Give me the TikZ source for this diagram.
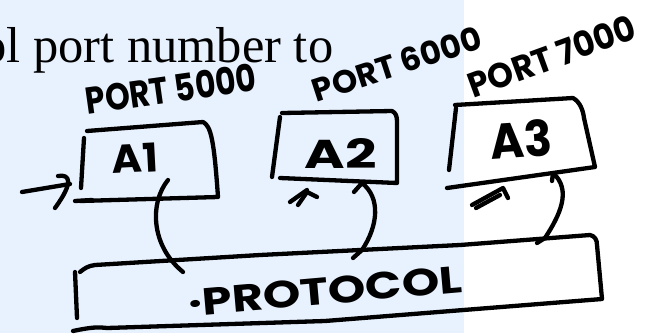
\documentclass[tikz,border=0pt]{standalone}
\usepackage{fontspec}
\usepackage{graphicx}
\setmainfont{Liberation Serif}
\newfontfamily\hand{Poppins}
\definecolor{bgblue}{RGB}{232,242,254}
\tikzset{
  ink/.style={line width=4.3pt, line cap=round, line join=round, black},
  hw/.style={inner sep=0pt, font=\hand\bfseries},
}
\begin{document}
\begin{tikzpicture}[x=1pt,y=-1pt]
\useasboundingbox (0,0) rectangle (649,333);
\fill[white] (0,0) rectangle (649,333);
\fill[bgblue] (0,0) rectangle (464,333);
\begin{scope}
  \clip (0,0) rectangle (649,333);
  \node[anchor=base west, inner sep=0pt, font=\fontsize{50.5}{60}\selectfont] (hdr) at (-19,62) {ol port number to};
\end{scope}

% handwritten labels
\node[hw, rotate=8]  (port1) at (171,89) {\resizebox{172pt}{28pt}{PORT 5000}};
\node[hw, rotate=18] (port2) at (397,64) {\resizebox{176pt}{24pt}{PORT 6000}};
\node[hw, rotate=20] (port3) at (552,56) {\resizebox{176pt}{26pt}{PORT 7000}};
\node[hw, rotate=3]  (a1) at (135,158) {\resizebox{46pt}{29pt}{A1}};
\node[hw]            (a2) at (341,153) {\resizebox{72pt}{30pt}{A2}};
\node[hw, rotate=4]  (a3) at (521,139) {\resizebox{62pt}{37pt}{A3}};
\node[hw, rotate=5]  (proto) at (325,291) {\resizebox{275pt}{27pt}{·PROTOCOL}};

% A1 box
\draw[ink] (87,131) -- (203,122) .. controls (211,126) and (214,140) .. (218,197) -- (80,201);
\draw[ink] (75,201) -- (92,200);
\draw[ink] (84,138) -- (81,188);
% input arrow
\coordinate (in0) at (22,192);
\coordinate (in1) at (70,184);
\draw[ink] (in0) -- (in1);
\draw[ink] (58,176) .. controls (70,174) and (74,182) .. (55,208);

% A2 box
\draw[ink] (282,113) -- (392,111) .. controls (396,113) and (397,116) .. (397,122) -- (397,183) -- (280,178);
\draw[ink] (280,117) -- (272,177);
% A2 mark
\draw[ink] (290,202) -- (307,190);
\draw[ink] (298,205) -- (307,192) -- (317,197);

% A3 box
\draw[ink] (455,105) -- (573,98) .. controls (580,102) and (583,110) .. (584,118) -- (595,167) -- (447,188);
\draw[ink] (456,108) -- (449,170);
% A3 mark
\draw[ink] (472,205) -- (503,188) -- (508,198);
\draw[ink] (476,208) -- (500,195);

% protocol box
\draw[ink] (80,272) .. controls (85,268) and (88,266) .. (95,265) -- (260,255) -- (460,245) -- (590,235) .. controls (595,236) and (597,240) .. (597,245) -- (602,299) -- (325,321) -- (107,328) .. controls (98,327) and (92,327) .. (73,331);
\draw[ink] (75,272) -- (77,318);

% connectors
\coordinate (c1a) at (168,180);
\coordinate (c1b) at (183,272);
\draw[ink] (c1a) .. controls (150,202) and (150,245) .. (c1b);

\coordinate (c2a) at (353,258);
\coordinate (c2b) at (362,183);
\coordinate (c2c) at (354,192);
\draw[ink] (c2a) -- (362,250) .. controls (378,226) and (381,198) .. (c2b) -- (c2c);

\coordinate (c3a) at (537,243);
\coordinate (c3b) at (553,173);
\coordinate (c3c) at (552,181);
\draw[ink] (c3a) -- (545,238) .. controls (560,215) and (572,190) .. (c3b) -- (c3c);
\end{tikzpicture}
\end{document}
